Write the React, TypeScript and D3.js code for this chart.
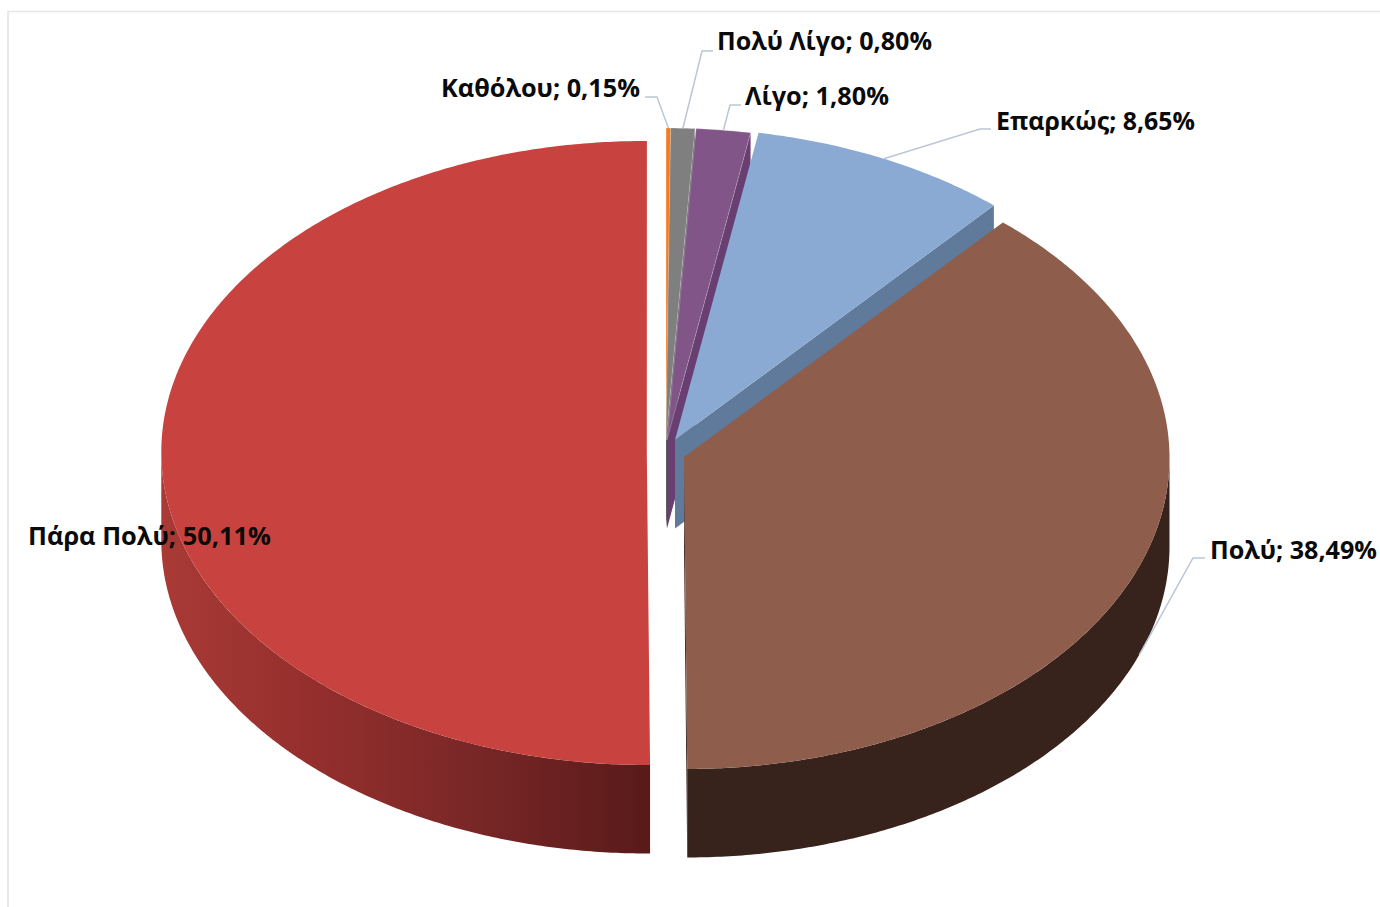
import React from "react";
import * as d3 from "d3";

// ---- data (clockwise, as the pie is drawn) ----
const categories = ["Πάρα Πολύ", "Καθόλου", "Πολύ Λίγο", "Λίγο", "Επαρκώς", "Πολύ"];
const percents = [50.11, 0.15, 0.8, 1.8, 8.65, 38.49];
const percentLabels = ["50,11%", "0,15%", "0,80%", "1,80%", "8,65%", "38,49%"];
const topColors = ["#c8433f", "#f47b20", "#7f7f7f", "#825589", "#8aaad3", "#8f5d4b"];
const sideColors = ["url(#redWall)", "#b85d16", "#5f5f5f", "#693f72", "#5f7a9a", "#38231c"];

// ---- layout ----
const W = 1380;
const H = 907;
const RX = 485.5;
const RY = 312;
const DEPTH = 88.5;
const SHEAR = 0.005;
const DEG = Math.PI / 180;
const TAU = 2 * Math.PI;
const START = 179.8 * DEG;
const apexes: [number, number][] = [
  [646.8, 453],
  [666, 440],
  [666, 440],
  [667, 440],
  [675, 440],
  [684, 457],
];
// label box: left, right, baseline; leader: elbow point and end point
const labels = [
  { l: 28, r: 271, y: 545, elbow: null, end: null, onWall: false },
  { l: 441, r: 640, y: 97, elbow: [657, 97], end: [645, 97], onWall: false },
  { l: 717, r: 932, y: 50, elbow: [702, 51], end: [713, 51], onWall: false },
  { l: 745, r: 889, y: 105, elbow: [730, 105], end: [741, 105], onWall: false },
  { l: 996, r: 1195, y: 130, elbow: [980, 129], end: [991, 129], onWall: false },
  { l: 1210, r: 1377, y: 559, elbow: [1193, 558], end: [1205, 558], onWall: true },
];

const pieGen = d3
  .pie<number>()
  .sort(null)
  .startAngle(START)
  .endAngle(START + TAU);
const arcs = pieGen(percents);

const project = (i: number, a: number, drop = 0): [number, number] => {
  const [ax, ay] = apexes[i];
  const sy = -Math.cos(a) * RY;
  return [ax + Math.sin(a) * RX + SHEAR * sy, ay + sy + drop];
};

const line = d3.line<[number, number]>();
const samples = (a0: number, a1: number) => {
  const n = Math.max(2, Math.ceil(Math.abs(a1 - a0) / (0.5 * DEG)));
  return d3.range(n + 1).map((k) => a0 + ((a1 - a0) * k) / n);
};

const topPath = (i: number) => {
  const { startAngle: s, endAngle: e } = arcs[i];
  return line([apexes[i], ...samples(s, e).map((a) => project(i, a))]) + "Z";
};

// the flat cut face at the slice's clockwise end, seen from the front-right
const cutPath = (i: number) => {
  const e = arcs[i].endAngle;
  const [ax, ay] = apexes[i];
  return (
    line([
      [ax, ay],
      project(i, e),
      project(i, e, DEPTH),
      [ax, ay + DEPTH],
    ]) + "Z"
  );
};

// the curved outer wall: only the front half of the ellipse shows
const wallPath = (i: number) => {
  const { startAngle: s, endAngle: e } = arcs[i];
  const a0 = ((s % TAU) + TAU) % TAU;
  const a1 = a0 + (e - s);
  const lo = Math.max(a0, 90 * DEG);
  const hi = Math.min(a1, 270 * DEG);
  if (hi <= lo) return null;
  const ang = samples(lo, hi);
  return (
    line([
      ...ang.map((a) => project(i, a)),
      ...[...ang].reverse().map((a) => project(i, a, DEPTH)),
    ]) + "Z"
  );
};

const redX = d3.scaleLinear().domain([0, 1]).range([apexes[0][0] - RX, apexes[0][0]]);
const redStops = [
  [0, "#a93a36"],
  [0.3, "#952f2d"],
  [0.6, "#7d2828"],
  [1, "#5a1a1a"],
] as const;

export default function App() {
  return (
    <svg
      width={W}
      height={H}
      viewBox={`0 0 ${W} ${H}`}
      style={{ position: "absolute", left: 0, top: 0, display: "block", background: "#fff" }}
    >
      <defs>
        <linearGradient
          id="redWall"
          gradientUnits="userSpaceOnUse"
          x1={redX(0)}
          x2={redX(1)}
          y1={0}
          y2={0}
        >
          {redStops.map(([o, c]) => (
            <stop key={o} offset={o} stopColor={c} />
          ))}
        </linearGradient>
      </defs>

      <line x1={8} x2={W} y1={11.5} y2={11.5} stroke="#e5e5e7" strokeWidth={1.5} />
      <line x1={8} x2={8} y1={11} y2={H} stroke="#e8eaee" strokeWidth={2} />

      {arcs.map((_, i) => {
        const w = wallPath(i);
        return (
          <g key={categories[i]}>
            {i > 0 && <path d={cutPath(i)} fill={sideColors[i]} />}
            {w && <path d={w} fill={sideColors[i]} />}
            <path
              d={topPath(i)}
              fill={topColors[i]}
              stroke={percents[i] < 2 ? "rgba(255,255,255,0.3)" : "none"}
              strokeWidth={0.7}
            />
          </g>
        );
      })}

      {arcs.map((arc, i) => {
        const lab = labels[i];
        if (!lab.elbow || !lab.end) return null;
        const mid = (arc.startAngle + arc.endAngle) / 2;
        const from = project(i, mid, lab.onWall ? DEPTH : 0);
        return (
          <path
            key={categories[i]}
            d={line([from, lab.elbow as [number, number], lab.end as [number, number]]) as string}
            fill="none"
            stroke="#bcc6d4"
            strokeWidth={1.5}
          />
        );
      })}

      {labels.map((lab, i) => (
        <text
          key={categories[i]}
          x={lab.l}
          y={lab.y}
          textLength={lab.r - lab.l}
          lengthAdjust="spacingAndGlyphs"
          fontFamily="'Open Sans', 'Noto Sans', sans-serif"
          fontWeight={700}
          fontSize={25}
          fill="#0a0a0a"
        >
          {`${categories[i]}; ${percentLabels[i]}`}
        </text>
      ))}
    </svg>
  );
}
